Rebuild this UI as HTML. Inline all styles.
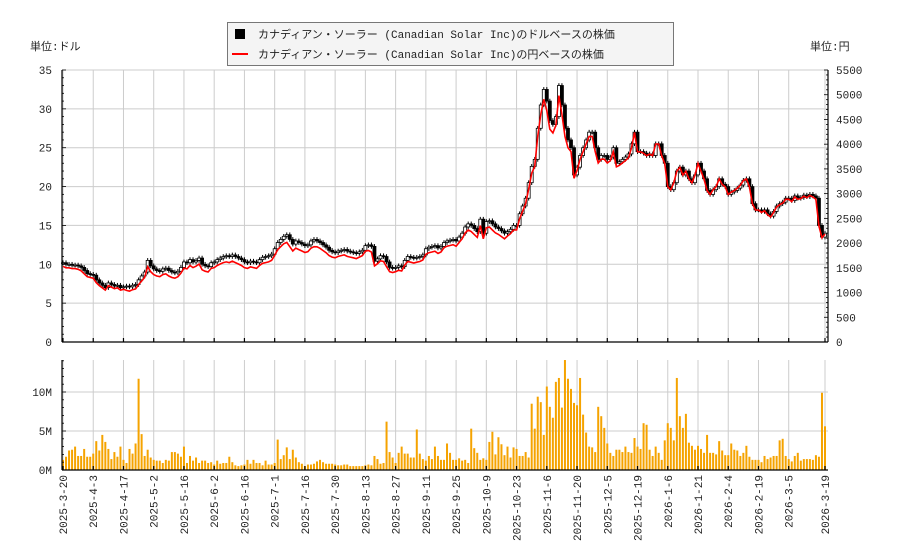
<!DOCTYPE html>
<html><head><meta charset="utf-8"><style>
body{margin:0;background:#fff;font-family:"Liberation Sans","Noto Sans CJK JP",sans-serif}
svg text{font-family:"Liberation Mono","Noto Sans CJK JP",monospace;font-size:11px;fill:#222}
</style></head><body>
<svg id="c" width="900" height="550" xmlns="http://www.w3.org/2000/svg"></svg>
<script>
const closeUsd=[10.2,10,10,9.9,9.9,9.8,9.6,9.2,8.8,8.7,
8.6,8.0,7.6,7.3,7.0,7.6,7.4,7.2,7.3,7.0,
7.1,7.2,7.1,7.3,7.4,8.0,8.5,9.0,10.5,9.8,
9.4,9.2,9.1,9.4,9.5,9.2,9.0,8.9,9.1,9.6,
10.3,10.2,10.6,10.3,10.5,10.8,10.0,9.8,9.7,10.2,
10.3,10.6,10.8,11.0,11.1,11.0,11.2,11.0,10.8,10.6,
10.3,10.2,10.4,10.3,10.2,10.6,10.9,11.0,11.1,11.3,
12.0,12.8,13.2,13.6,13.8,13.2,12.6,13.0,12.8,12.6,
12.4,12.5,13.0,13.2,13.0,12.8,12.5,12.2,11.8,11.6,
11.5,11.7,11.8,11.9,11.7,11.6,11.5,11.4,11.6,11.8,
12.4,12.5,12.3,10.4,10.7,11.1,11.0,10.3,9.6,9.5,
9.6,9.8,9.7,10.5,11.0,10.9,10.8,10.9,11.0,11.2,
12.0,12.2,12.3,12.4,12.1,12.3,12.8,13.0,13.1,13.2,
13.0,13.5,14.0,14.8,15.2,15.0,14.6,14.2,15.8,14.0,
15.5,15.6,15.2,14.8,14.6,14.3,14.0,14.2,14.5,15.0,
15.0,16.5,17.5,18.5,20.5,22.6,23.5,27.5,30.5,32.5,
31.0,28.5,28.0,29.0,33.0,30.5,27.5,26.0,25.0,21.5,
22.5,24.0,25.0,26.0,27.0,27.0,25.0,23.5,24.0,24.0,
23.5,23.8,25.0,23.0,23.2,23.5,23.8,24.2,25.5,27.0,
24.5,24.5,24.3,24.0,24.2,24.0,25.5,25.5,24.0,23.0,
20.0,19.6,20.5,22.0,22.5,21.5,22.0,21.0,20.5,21.5,
23.0,22.0,21.0,19.5,19.0,19.6,20.0,21.0,20.3,20.0,
19.0,19.3,19.5,19.8,20.2,20.8,21.0,20.0,17.8,17.0,
17.0,16.8,17.0,16.5,16.2,16.8,17.5,17.8,18.0,18.5,
18.5,18.2,18.8,18.5,18.6,18.9,18.7,19.0,18.8,18.5,15.0,13.5,14.0];
const volumeM=[1.3,1.7,2.5,2.6,3.0,1.8,1.8,2.7,1.7,1.7,
2.1,3.7,2.5,4.5,3.6,2.7,1.4,2.3,1.7,3.0,
1.3,0.9,2.7,2.1,3.4,11.7,4.6,1.8,2.6,1.6,
1.3,1.2,1.2,0.9,1.3,1.2,2.3,2.3,2.1,1.7,
3.0,0.9,1.8,1.2,1.6,0.9,1.2,1.2,0.9,1.0,
0.7,1.2,0.8,0.9,0.9,1.7,1.0,0.6,0.5,0.6,
0.7,1.3,0.8,1.3,0.9,0.9,0.6,1.2,0.7,0.7,
0.9,3.9,1.4,1.9,2.9,1.4,2.6,1.6,1.0,0.8,
0.5,0.7,0.7,0.8,1.1,1.3,1.0,0.8,0.8,0.8,
0.7,0.6,0.6,0.7,0.7,0.5,0.5,0.5,0.5,0.5,
0.6,0.7,0.6,1.8,1.4,0.8,0.9,6.2,2.3,1.6,
0.9,2.2,3.0,2.1,2.1,1.6,1.6,5.2,2.1,1.4,
1.2,1.8,1.4,3.0,1.8,1.3,1.3,3.4,2.2,1.3,
1.3,1.5,1.2,1.3,0.9,5.3,2.8,2.2,1.3,1.5,
1.3,3.6,4.9,2.0,4.2,3.3,1.9,3.0,1.6,2.9,
2.7,1.8,1.8,2.3,1.6,8.5,5.3,9.4,8.7,4.5,
10.7,8.1,6.7,11.3,11.8,8.0,14.1,11.7,10.4,8.6,
8.3,11.8,7.1,4.8,3.0,2.9,2.3,8.1,6.9,5.4,
3.4,2.2,1.8,2.6,2.6,2.3,3.0,2.3,2.2,4.1,
3.0,2.7,6.0,5.8,2.6,1.8,3.0,2.2,1.3,3.8,
6.0,5.4,3.8,11.8,6.9,5.4,7.2,3.5,3.1,2.6,
3.1,2.7,2.2,4.5,2.2,2.2,2.0,3.7,2.5,1.9,
1.9,3.4,2.6,2.5,1.8,2.2,3.1,1.7,1.3,1.3,
1.3,1.0,1.8,1.4,1.6,1.8,1.8,3.8,4.0,1.8,
1.4,1.1,1.8,2.2,1.2,1.4,1.4,1.4,1.3,1.9,1.7,9.9,5.6];
const usdJpyMonthly=[150,145,146,146,148,148,149,151,154,157,157,156,156,157];
const dateLabels=["2025-3-20","2025-4-3","2025-4-17","2025-5-2","2025-5-16","2025-6-2","2025-6-16","2025-7-1","2025-7-16","2025-7-30","2025-8-13","2025-8-27","2025-9-11","2025-9-25","2025-10-9","2025-10-23","2025-11-6","2025-11-20","2025-12-5","2025-12-19","2026-1-6","2026-1-21","2026-2-4","2026-2-19","2026-3-5","2026-3-19"];
const usdTicks=[0,5,10,15,20,25,30,35];
const yenTicks=[0,500,1000,1500,2000,2500,3000,3500,4000,4500,5000,5500];
const volTicks=[0,5,10];

const svg=document.getElementById('c');const NS='http://www.w3.org/2000/svg';
function mk(t,a,p){const e=document.createElementNS(NS,t);for(const k in a)e.setAttribute(k,a[k]);(p||svg).appendChild(e);return e;}
const N=closeUsd.length;
const X0=62,X1=828,PY0=342,PY1=70,VY0=470,VY1=360;
const xs=i=>63+i*(762/(N-1));
const yP=v=>PY0-(v/35)*(PY0-PY1);
const yY=v=>PY0-(v/5500)*(PY0-PY1);
const yV=v=>VY0-v*7.8;
const labelIdx=i=>i===dateLabels.length-1?N-1:i*10;

const g=mk('g',{});
usdTicks.forEach(t=>{mk('line',{x1:X0,x2:X1,y1:yP(t),y2:yP(t),stroke:'#ccc'},g);});
volTicks.forEach(t=>{mk('line',{x1:X0,x2:X1,y1:yV(t),y2:yV(t),stroke:'#ccc'},g);});
dateLabels.forEach((d,i)=>{const x=xs(labelIdx(i));mk('line',{x1:x,x2:x,y1:PY1,y2:PY0,stroke:'#ccc'},g);mk('line',{x1:x,x2:x,y1:VY1,y2:VY0,stroke:'#ccc'},g);});

const cg=mk('g',{});
for(let i=0;i<N;i++){const c=closeUsd[i],o=i?closeUsd[i-1]:c;const hi=Math.max(o,c)+0.3,lo=Math.min(o,c)-0.3;const x=xs(i);
 const k=mk('g',{},cg);
 mk('line',{x1:x,x2:x,y1:yP(hi),y2:yP(lo),stroke:'#000'},k);
 const top=yP(Math.max(o,c)),h=Math.max(1,yP(Math.min(o,c))-top);
 mk('rect',{x:x-1.5,y:top,width:3,height:h,fill:c>=o?'#fff':'#000',stroke:'#000','stroke-width':0.8},k);}

let pts=[];for(let i=0;i<N;i++){const r=usdJpyMonthly[Math.min(usdJpyMonthly.length-1,Math.floor(i/21))];pts.push(xs(i).toFixed(1)+','+yY(closeUsd[i]*r).toFixed(1));}
const yl=mk('polyline',{points:pts.join(' '),fill:'none',stroke:'#f00','stroke-width':1.6});


const vg=mk('g',{});
for(let i=0;i<N;i++){const b=mk('rect',{x:xs(i)-1,y:yV(volumeM[i]),width:2,height:volumeM[i]*7.8,fill:'#f5a300'},vg);
 }

const ax=mk('g',{stroke:'#000','stroke-width':1.2});
mk('line',{x1:X0,x2:X0,y1:PY1,y2:PY0},ax);mk('line',{x1:X1,x2:X1,y1:PY1,y2:PY0},ax);mk('line',{x1:X0,x2:X1,y1:PY0,y2:PY0},ax);
mk('line',{x1:X0,x2:X0,y1:VY1,y2:VY0},ax);mk('line',{x1:X0,x2:X1,y1:VY0,y2:VY0},ax);
for(let v=0;v<=35;v+=1)mk('line',{x1:X0,x2:X0+(v%5?2:4),y1:yP(v),y2:yP(v),'stroke-width':0.8},ax);
for(let v=0;v<=5500;v+=100)mk('line',{x1:X1,x2:X1-(v%500?2:4),y1:yY(v),y2:yY(v),'stroke-width':0.8},ax);
for(let v=0;v<=14;v+=1)mk('line',{x1:X0,x2:X0+(v%5?2:4),y1:yV(v),y2:yV(v),'stroke-width':0.8},ax);
dateLabels.forEach((d,i)=>{const x=xs(labelIdx(i));mk('line',{x1:x,x2:x,y1:PY0,y2:PY0-4},ax);mk('line',{x1:x,x2:x,y1:VY0,y2:VY0-4},ax);});

usdTicks.forEach(t=>{const e=mk('text',{x:52,y:yP(t)+4,'text-anchor':'end'});e.textContent=t;});
yenTicks.forEach(t=>{const e=mk('text',{x:836,y:yY(t)+4});e.textContent=t;});
volTicks.forEach(t=>{const e=mk('text',{x:52,y:yV(t)+4,'text-anchor':'end'});e.textContent=t+'M';});
dateLabels.forEach((d,i)=>{const x=xs(labelIdx(i))+4;const e=mk('text',{x:x,y:475,transform:`rotate(-90 ${x} 475)`,'text-anchor':'end'});e.textContent=d;});

const u1=mk('text',{x:30,y:50});u1.textContent='単位:ドル';
const u2=mk('text',{x:810,y:50});u2.textContent='単位:円';

const lg=mk('g',{});
mk('rect',{x:227.5,y:22.5,width:446,height:43,fill:'#f4f4f4',stroke:'#777'},lg);
mk('rect',{x:235,y:29,width:10,height:10,fill:'#000'},lg);
mk('line',{x1:232,x2:248,y1:54,y2:54,stroke:'#f00','stroke-width':2},lg);
const l1=mk('text',{x:258,y:38,'font-size':'12'},lg);l1.textContent='カナディアン・ソーラー (Canadian Solar Inc)のドルベースの株価';
const l2=mk('text',{x:258,y:58,'font-size':'12'},lg);l2.textContent='カナディアン・ソーラー (Canadian Solar Inc)の円ベースの株価';
</script></body></html>
